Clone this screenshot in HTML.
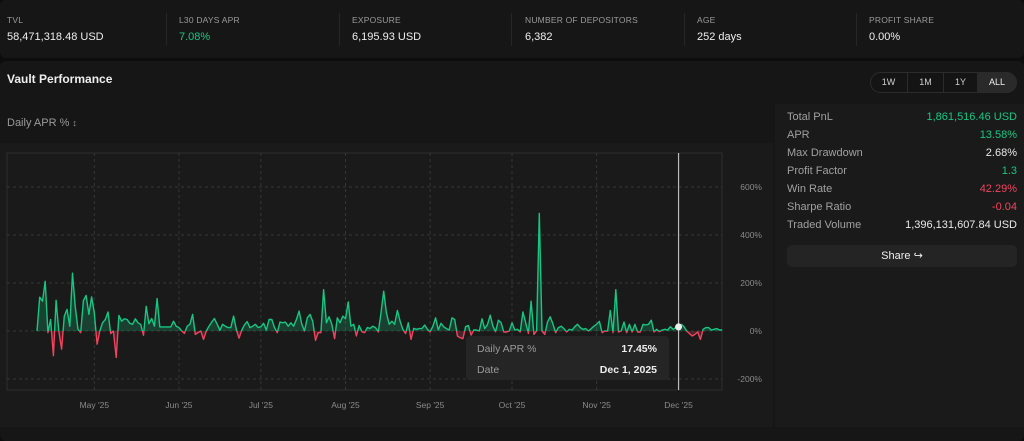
<!DOCTYPE html>
<html><head><meta charset="utf-8">
<style>
*{box-sizing:border-box;margin:0;padding:0}
body{width:1024px;height:427px;background:#0d0d0d;font-family:"Liberation Sans",sans-serif;color:#e8e8e8;overflow:hidden;position:relative}
.card{position:absolute;background:#161616;border-radius:6px}
.stat{position:absolute;top:0;height:58px}
.stat .l{position:absolute;top:15px;font-size:8.5px;color:#9a9a9a;letter-spacing:.2px;white-space:nowrap}
.stat .v{position:absolute;top:31px;font-size:11px;color:#eee;white-space:nowrap}
.stat .v.g{color:#16c784}
.div{position:absolute;top:13px;width:1px;height:33px;background:#262626}
.row{position:absolute;left:787px;width:230px;height:18px;font-size:11px}
.row .a{position:absolute;left:0;color:#a0a0a0}
.row .b{position:absolute;right:0}
.g{color:#16c784}.r{color:#f0445e}
.btn{position:absolute;top:72px;height:21px;font-size:9px;color:#cfcfcf;text-align:center;line-height:21px}
</style></head><body>
<div class="card" style="left:0;top:0;width:1024px;height:58px">
 <div class="stat" style="left:7px"><div class="l">TVL</div><div class="v">58,471,318.48 USD</div></div>
 <div class="div" style="left:166px"></div>
 <div class="stat" style="left:179px"><div class="l">L30 DAYS APR</div><div class="v g">7.08%</div></div>
 <div class="div" style="left:339px"></div>
 <div class="stat" style="left:352px"><div class="l">EXPOSURE</div><div class="v">6,195.93 USD</div></div>
 <div class="div" style="left:511px"></div>
 <div class="stat" style="left:525px"><div class="l">NUMBER OF DEPOSITORS</div><div class="v">6,382</div></div>
 <div class="div" style="left:684px"></div>
 <div class="stat" style="left:697px"><div class="l">AGE</div><div class="v">252 days</div></div>
 <div class="div" style="left:856px"></div>
 <div class="stat" style="left:869px"><div class="l">PROFIT SHARE</div><div class="v">0.00%</div></div>
</div>
<div class="card" style="left:0;top:61px;width:1024px;height:380px">
 <div style="position:absolute;left:7px;top:11px;font-size:12px;font-weight:bold;color:#eee">Vault Performance</div>
 <div style="position:absolute;left:7px;top:56px;font-size:11px;color:#9a9a9a">Daily APR % <span style="font-size:9px">&#x2195;</span></div>
</div>
<div style="position:absolute;left:870px;top:72px;width:147px;height:21px;border:1px solid #2c2c2c;border-radius:11px;background:#141414"></div>
<div class="btn" style="left:870px;width:37px">1W</div>
<div class="btn" style="left:907px;width:36px;border-left:1px solid #2c2c2c">1M</div>
<div class="btn" style="left:943px;width:34px;border-left:1px solid #2c2c2c">1Y</div>
<div class="btn" style="left:977px;width:40px;background:#2a2a2a;border-radius:0 11px 11px 0;color:#eee">ALL</div>
<div style="position:absolute;left:0;top:143px;width:773px;height:284px;background:#1a1a1a"></div>
<div style="position:absolute;left:775px;top:104px;width:249px;height:323px;background:#1a1a1a"></div>
<div class="row" style="top:111px"><span class="a">Total PnL</span><span class="b g">1,861,516.46 USD</span></div>
<div class="row" style="top:129px"><span class="a">APR</span><span class="b g">13.58%</span></div>
<div class="row" style="top:147px"><span class="a">Max Drawdown</span><span class="b">2.68%</span></div>
<div class="row" style="top:165px"><span class="a">Profit Factor</span><span class="b g">1.3</span></div>
<div class="row" style="top:183px"><span class="a">Win Rate</span><span class="b r">42.29%</span></div>
<div class="row" style="top:201px"><span class="a">Sharpe Ratio</span><span class="b r">-0.04</span></div>
<div class="row" style="top:219px"><span class="a">Traded Volume</span><span class="b">1,396,131,607.84 USD</span></div>
<div style="position:absolute;left:787px;top:245px;width:230px;height:22px;background:#242424;border-radius:5px;text-align:center;line-height:22px;font-size:11px;color:#eee">Share &#x21AA;</div>

<svg id="chart" width="1024" height="427" style="position:absolute;left:0;top:0">
<defs>
 <clipPath id="pos"><rect id="posr" x="0" y="0" width="1024" height="0"/></clipPath>
 <clipPath id="neg"><rect id="negr" x="0" y="0" width="1024" height="427"/></clipPath>
</defs>
<g id="grid"></g><g id="marks"></g><g id="overlay"></g>
</svg>
<script>
const startDate = [2025, 3, 10];
const monthLabels = ["May '25","Jun '25","Jul '25","Aug '25","Sep '25","Oct '25","Nov '25","Dec '25"];
const monthDates = [[2025,4,1],[2025,5,1],[2025,6,1],[2025,7,1],[2025,8,1],[2025,9,1],[2025,10,1],[2025,11,1]];
const yTicks = [600,400,200,0,-200];
const yTickLabels = ["600%","400%","200%","0%","-200%"];
const aprValues = [0,141,124,207,-7,48,-103,128,0,-76,62,90,20,241,103,7,-7,127,148,69,142,76,-55,0,34,48,79,-11,0,-110,
65,41,51,48,32,28,51,34,28,-18,103,30,52,20,135,17,17,17,17,17,41,20,14,0,-10,20,28,69,-14,-7,
0,-35,0,20,37,52,28,3,28,20,14,14,62,7,-30,4,26,39,14,20,28,14,18,32,4,48,48,14,-7,37,
34,37,20,34,20,48,83,28,0,55,69,41,-39,-7,-7,172,34,59,28,-32,55,34,62,51,121,20,28,-21,23,-3,
-7,14,11,20,14,-4,76,166,76,28,41,28,86,41,7,-11,34,-35,11,7,10,10,25,7,-4,20,55,4,32,17,
10,4,55,48,-21,-28,-32,18,23,-17,4,4,0,51,10,26,66,20,-3,45,34,-4,-4,0,34,4,7,-4,79,34,
-10,124,-14,0,490,0,-14,37,59,28,-7,14,20,10,-4,7,4,18,28,14,7,10,0,10,20,28,40,-7,0,0,
86,-7,172,-4,0,37,-7,28,-4,28,-4,-4,28,25,28,45,-4,7,-3,4,7,4,18,7,14,17,28,18,0,-11,
-21,-14,-4,-35,7,14,14,4,7,10,4,4];
const tooltipIndex = 235;

const X0=37, DAY=2.73, Y0=331, YS=0.24, PL=7, PR=722, PT=153, PB=390;
const NS="http://www.w3.org/2000/svg";
function dayIndex(d){return Math.round((Date.UTC(d[0],d[1],d[2])-Date.UTC(startDate[0],startDate[1],startDate[2]))/864e5);}
function xs(i){return X0+i*DAY;}
function ys(v){return Y0-v*YS;}
function mk(tag,attrs,parent){const e=document.createElementNS(NS,tag);for(const k in attrs)e.setAttribute(k,attrs[k]);parent.appendChild(e);return e;}
const grid=document.getElementById('grid'),marks=document.getElementById('marks'),ov=document.getElementById('overlay');
const frame=mk('rect',{x:PL,y:PT,width:PR-PL,height:PB-PT,fill:'none',stroke:'#2e2e2e'},grid);


yTicks.forEach((t,i)=>{
 const l=mk('line',{x1:PL,x2:PR,y1:ys(t),y2:ys(t),stroke:'#363636','stroke-dasharray':'3,3'},grid);
 
 
 const tx=mk('text',{x:762,y:ys(t)+3,'text-anchor':'end','font-size':'8.5',fill:'#8a8a8a','font-family':'Liberation Sans'},grid);
 tx.textContent=yTickLabels[i];
 
 
});
monthDates.forEach((d,i)=>{
 const x=xs(dayIndex(d));
 const l=mk('line',{x1:x,x2:x,y1:PT,y2:PB,stroke:'#363636','stroke-dasharray':'3,3'},grid);
 
 
 const tx=mk('text',{x:x,y:408,'text-anchor':'middle','font-size':'8.5',fill:'#8a8a8a','font-family':'Liberation Sans'},grid);
 tx.textContent=monthLabels[i];
 
 
});
document.getElementById('posr').setAttribute('height',ys(0));
document.getElementById('negr').setAttribute('y',ys(0));
let pts=aprValues.map((v,i)=>xs(i).toFixed(1)+','+ys(v).toFixed(1)).join(' ');
const areaPts=xs(0)+','+ys(0)+' '+pts+' '+xs(aprValues.length-1)+','+ys(0);
[['pos','#16c784','positive'],['neg','#f0445e','negative']].forEach(([c,col,n])=>{
 const a=mk('polygon',{points:areaPts,fill:col,'fill-opacity':0.22,'clip-path':'url(#'+c+')'},marks);
 
 
 const p=mk('polyline',{points:pts,fill:'none',stroke:col,'stroke-width':1.4,'stroke-linejoin':'round','clip-path':'url(#'+c+')'},marks);
 
 
});
const tx=xs(tooltipIndex);
const cl=mk('line',{x1:tx,x2:tx,y1:PT,y2:PB,stroke:'#bbbbbb','stroke-width':1.2},ov);


const dot=mk('circle',{cx:tx,cy:ys(aprValues[tooltipIndex]),r:3.5,fill:'#eeeeee'},ov);


const tb=mk('rect',{x:466,y:336,width:203,height:44,rx:4,fill:'#262626','fill-opacity':0.95},ov);


const texts=[[477,352,'start','#9a9a9a','Daily APR %','normal'],[657,352,'end','#eeeeee','17.45%','bold'],[477,373,'start','#9a9a9a','Date','normal'],[657,373,'end','#eeeeee','Dec 1, 2025','bold']];
texts.forEach(t=>{const e=mk('text',{x:t[0],y:t[1],'text-anchor':t[2],fill:t[3],'font-size':'10.5','font-weight':t[5],'font-family':'Liberation Sans'},ov);e.textContent=t[4];
 
 
});
</script>
</body></html>
